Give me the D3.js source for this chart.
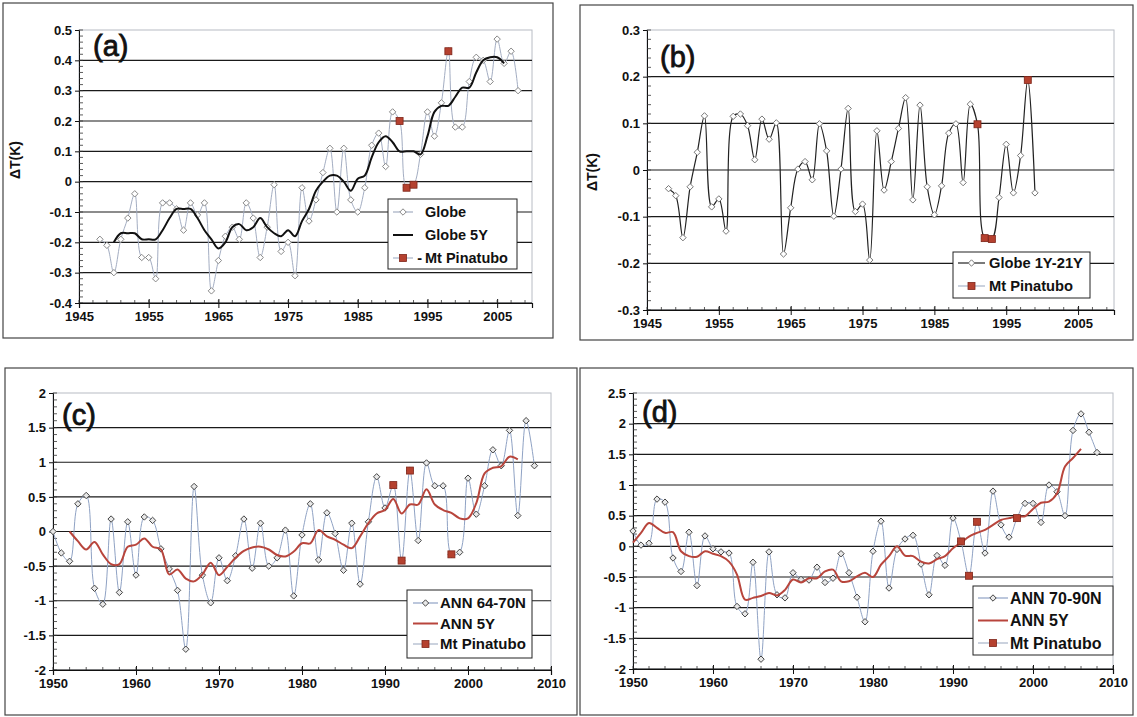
<!DOCTYPE html>
<html><head><meta charset="utf-8">
<script src="https://cdn.jsdelivr.net/npm/d3@7"></script>
<style>
body{margin:0;background:#fff;}
svg{display:block;font-family:"Liberation Sans",Arial,sans-serif;}
</style></head>
<body><svg id="c" width="1137" height="717"></svg>
<script>
// ---------------- DATA ----------------
const yearsA = d3.range(1948, 2009);
const globeA = [-0.19,-0.21,-0.30,-0.19,-0.12,-0.04,-0.25,-0.25,-0.32,-0.07,-0.07,-0.09,-0.16,-0.07,-0.11,-0.07,-0.36,-0.26,-0.18,-0.15,-0.19,-0.07,-0.12,-0.25,-0.15,-0.01,-0.23,-0.20,-0.31,-0.02,-0.13,-0.06,0.03,0.11,-0.10,0.11,-0.06,-0.10,-0.02,0.12,0.16,0.05,0.23,0.20,-0.02,-0.01,0.09,0.23,0.15,0.26,0.43,0.18,0.18,0.33,0.41,0.40,0.33,0.47,0.39,0.43,0.30];
const years5A = d3.range(1950, 2007);
const globe5A = [-0.20,-0.17,-0.17,-0.17,-0.19,-0.19,-0.19,-0.16,-0.12,-0.09,-0.09,-0.09,-0.12,-0.16,-0.19,-0.22,-0.20,-0.15,-0.14,-0.16,-0.15,-0.12,-0.15,-0.17,-0.18,-0.16,-0.18,-0.13,-0.09,-0.03,0.00,0.02,0.02,0.00,-0.03,0.01,0.02,0.08,0.13,0.15,0.13,0.10,0.10,0.10,0.09,0.15,0.23,0.25,0.25,0.28,0.31,0.31,0.36,0.40,0.41,0.41,0.39];
const pinYears = [1991, 1992, 1993, 1998];
const pinA = [0.20, -0.02, -0.01, 0.43];

const yearsB = d3.range(1948, 2000);
const globeB = [-0.04,-0.055,-0.145,-0.036,0.038,0.116,-0.079,-0.062,-0.131,0.115,0.12,0.095,0.022,0.109,0.066,0.101,-0.18,-0.081,0.002,0.018,-0.021,0.099,0.041,-0.099,0.002,0.132,-0.089,-0.073,-0.193,0.084,-0.043,0.018,0.089,0.155,-0.064,0.139,-0.036,-0.096,-0.034,0.079,0.099,-0.027,0.141,0.098,-0.146,-0.148,-0.059,0.055,-0.049,0.031,0.193,-0.049];
const pinB = [0.098, -0.146, -0.148, 0.193];

const yearsC = d3.range(1950, 2009);
const annC = [0.0,-0.31,-0.43,0.40,0.52,-0.82,-1.05,0.18,-0.88,0.14,-0.63,0.21,0.16,-0.25,-0.54,-0.85,-1.70,0.65,-0.63,-1.03,-0.38,-0.71,-0.35,0.18,-0.53,0.12,-0.50,-0.38,0.02,-0.93,-0.05,0.40,-0.41,0.27,-0.03,-0.56,0.12,-0.76,0.14,0.79,0.34,0.67,-0.42,0.88,-0.13,0.99,0.66,0.66,-0.33,-0.30,0.77,0.25,0.66,1.18,0.95,1.46,0.23,1.60,0.95];
const years5C = d3.range(1952, 2007);
const ann5C = [0.0,-0.14,-0.26,-0.15,-0.33,-0.47,-0.47,-0.22,-0.19,-0.10,-0.22,-0.26,-0.62,-0.55,-0.68,-0.72,-0.62,-0.45,-0.63,-0.51,-0.38,-0.28,-0.23,-0.22,-0.26,-0.34,-0.36,-0.29,-0.17,-0.17,0.02,-0.07,-0.12,-0.19,-0.24,-0.07,0.12,0.26,0.31,0.47,0.26,0.39,0.39,0.61,0.39,0.31,0.27,0.19,0.19,0.41,0.84,0.92,0.94,1.08,1.04];
const pinC = [0.67, -0.42, 0.88, -0.33];

const yearsD = d3.range(1950, 2009);
const annD = [0.25,0.02,0.05,0.77,0.72,-0.19,-0.41,0.23,-0.64,0.17,-0.04,-0.09,-0.11,-0.98,-1.10,-0.26,-1.84,-0.09,-0.79,-0.84,-0.43,-0.54,-0.55,-0.34,-0.59,-0.52,-0.12,-0.43,-0.83,-1.23,-0.08,0.41,-0.68,-0.05,0.12,0.18,-0.29,-0.79,-0.15,-0.31,0.46,0.08,-0.48,0.40,-0.11,0.90,0.35,0.15,0.46,0.70,0.70,0.39,1.00,0.89,0.50,1.89,2.16,1.86,1.53];
const years5D = d3.range(1950, 2007);
const ann5D = [0.06,0.22,0.38,0.30,0.22,0.23,-0.08,-0.16,-0.17,-0.08,-0.12,-0.16,-0.25,-0.46,-0.87,-0.84,-0.81,-0.76,-0.80,-0.71,-0.54,-0.59,-0.52,-0.52,-0.41,-0.38,-0.57,-0.57,-0.49,-0.43,-0.50,-0.30,-0.16,0.00,-0.15,-0.16,-0.25,-0.28,-0.21,-0.16,-0.03,0.06,0.16,0.22,0.27,0.35,0.43,0.46,0.49,0.49,0.61,0.71,0.73,0.86,1.30,1.44,1.59];
const pinD = [0.08, -0.48, 0.40, 0.46];

const xTicksAB = [1945, 1955, 1965, 1975, 1985, 1995, 2005];
const xTicksCD = [1950, 1960, 1970, 1980, 1990, 2000, 2010];
const yTicksA = [0.5,0.4,0.3,0.2,0.1,0,-0.1,-0.2,-0.3,-0.4];
const yTicksB = [0.3,0.2,0.1,0,-0.1,-0.2,-0.3];
const yTicksC = [2,1.5,1,0.5,0,-0.5,-1,-1.5,-2];
const yTicksD = [2.5,2,1.5,1,0.5,0,-0.5,-1,-1.5,-2];

// ---------------- DRAW ----------------
const svg = d3.select("#c");
const RED = "#b5412f", RED_D = "#7e2519";
const diamond = "M0,-3.2L3.2,0L0,3.2L-3.2,0Z";

function panel(o){
  const g = svg.append("g");
  g.append("rect").attr("x",o.frame[0]).attr("y",o.frame[1]).attr("width",o.frame[2]-o.frame[0]).attr("height",o.frame[3]-o.frame[1])
    .attr("fill","none").attr("stroke","#444").attr("stroke-width",1.2);
  const x = d3.scaleLinear().domain(o.xd).range(o.xr);
  const y = d3.scaleLinear().domain(o.yd).range(o.yr);
  g.append("rect").attr("x",o.xr[0]).attr("y",o.yr[1]).attr("width",o.xr[1]-o.xr[0]).attr("height",o.yr[0]-o.yr[1])
    .attr("fill","none").attr("stroke","#b8bcc4").attr("stroke-width",1);
  g.selectAll(null).data(o.yt.filter(v=>v!==o.yd[1])).join("line")
    .attr("x1",o.xr[0]).attr("x2",o.xr[1]).attr("y1",d=>y(d)).attr("y2",d=>y(d))
    .attr("stroke","#1a1a1a").attr("stroke-width",1.2);
  const ya = d3.axisLeft(y).tickValues(o.yt).tickSize(4).tickFormat(d=>String(d));
  const yag = g.append("g").attr("transform",`translate(${o.xr[0]},0)`).call(ya);
  yag.select(".domain").attr("stroke","#111");
  yag.selectAll(".tick line").attr("stroke","#111");
  yag.selectAll("text").attr("font-size",13).attr("font-weight","bold").attr("fill","#111").attr("x",-7);
  const ym = d3.range(o.yd[0], o.yd[1]+1e-9, o.ym);
  g.selectAll(null).data(ym).join("line").attr("x1",o.xr[0]).attr("x2",o.xr[0]+4)
    .attr("y1",d=>y(d)).attr("y2",d=>y(d)).attr("stroke","#333").attr("stroke-width",0.8);
  const xa = d3.axisBottom(x).tickValues(o.xt).tickSize(5).tickPadding(4).tickFormat(d3.format("d"));
  const xag = g.append("g").attr("transform",`translate(0,${o.yr[0]})`).call(xa);
  xag.select(".domain").attr("stroke","#111").attr("stroke-width",1.2);
  xag.selectAll(".tick line").attr("stroke","#111").attr("y1",-4);
  xag.selectAll("text").attr("font-size",13).attr("font-weight","bold").attr("fill","#111");
  const xm = d3.range(o.xd[0], o.xd[1]+1e-9, 2);
  g.selectAll(null).data(xm).join("line").attr("x1",d=>x(d)).attr("x2",d=>x(d))
    .attr("y1",o.yr[0]-3).attr("y2",o.yr[0]).attr("stroke","#333").attr("stroke-width",0.8);

  const curve = d3.curveCatmullRom.alpha(0.5);
  const line = d3.line().x(d=>x(d[0])).y(d=>y(d[1])).curve(curve);
  const ann = o.years.map((yr,i)=>[yr,o.vals[i]]);
  g.append("path").attr("d",line(ann)).attr("fill","none").attr("stroke",o.annColor).attr("stroke-width",o.annWidth);
  g.selectAll(null).data(ann).join("path").attr("d",diamond)
    .attr("transform",d=>`translate(${x(d[0])},${y(d[1])})`)
    .attr("fill",o.mFill).attr("stroke",o.mStroke).attr("stroke-width",1);
  if(o.years5){
    const s5 = o.years5.map((yr,i)=>[yr,o.vals5[i]]);
    g.append("path").attr("d",line(s5)).attr("fill","none").attr("stroke",o.c5).attr("stroke-width",2);
  }
  const pin = pinYears.map((yr,i)=>[yr,o.pin[i]]);
  g.selectAll(null).data(pin).join("rect")
    .attr("x",d=>x(d[0])-3.5).attr("y",d=>y(d[1])-3.5).attr("width",7).attr("height",7)
    .attr("fill",RED).attr("stroke",RED_D).attr("stroke-width",0.8);
  g.append("text").attr("x",o.lab[0]).attr("y",o.lab[1]).attr("font-size",29)
    .attr("fill","#111").attr("stroke","#111").attr("stroke-width",0.8).text(o.label);
  if(o.ylab){
    g.append("text").attr("transform",`translate(${o.ylab[0]},${o.ylab[1]}) rotate(-90)`).attr("text-anchor","middle")
      .attr("font-size",14).attr("font-weight","bold").attr("fill","#111").text("ΔT(K)");
  }
  const L = o.leg;
  g.append("rect").attr("x",L.x).attr("y",L.y).attr("width",L.w).attr("height",L.h).attr("fill","#fff").attr("stroke","#222").attr("stroke-width",1);
  L.items.forEach((it,i)=>{
    const cy = L.y + L.pad + i*L.dy;
    const x0 = L.x+L.l0, x1 = L.x+L.l1;
    if(it.t==="ann"){
      g.append("line").attr("x1",x0).attr("x2",x1).attr("y1",cy).attr("y2",cy).attr("stroke",o.annColor).attr("stroke-width",1.2);
      g.append("path").attr("d",diamond).attr("transform",`translate(${(x0+x1)/2},${cy})`).attr("fill",o.mFill).attr("stroke",o.mStroke);
    } else if(it.t==="5y"){
      g.append("line").attr("x1",x0).attr("x2",x1).attr("y1",cy).attr("y2",cy).attr("stroke",o.c5).attr("stroke-width",2);
    } else {
      g.append("line").attr("x1",x0).attr("x2",x1).attr("y1",cy).attr("y2",cy).attr("stroke","#a8b4c8").attr("stroke-width",1.2);
      g.append("rect").attr("x",(x0+x1)/2-3.5).attr("y",cy-3.5).attr("width",7).attr("height",7).attr("fill",RED).attr("stroke",RED_D).attr("stroke-width",0.8);
    }
    if(it.pre){
      g.append("text").attr("x",L.x+L.tx-3).attr("y",cy).attr("dy","0.36em").attr("text-anchor","end")
        .attr("font-size",L.fs).attr("font-weight","bold").attr("fill","#111").text(it.pre);
    }
    g.append("text").attr("x",L.x+L.tx).attr("y",cy).attr("dy","0.36em").attr("font-size",L.fs).attr("font-weight","bold").attr("fill","#111").text(it.s);
  });
}

panel({frame:[3,3,553,338], xd:[1945,2010], xr:[79,532], yd:[-0.4,0.5], yr:[303,30], yt:yTicksA, ym:0.02, xt:xTicksAB,
  years:yearsA, vals:globeA, years5:years5A, vals5:globe5A, c5:"#111", pin:pinA,
  annColor:"#a3adc2", annWidth:1, mFill:"#fff", mStroke:"#888",
  label:"(a)", lab:[93,56], ylab:[20,160],
  leg:{x:388,y:199,w:129,h:70,pad:13,dy:23,l0:5,l1:25,tx:37,fs:14.5,items:[{t:"ann",s:"Globe"},{t:"5y",s:"Globe 5Y"},{t:"pin",s:"Mt Pinatubo",pre:"-"}]}});

panel({frame:[580,5,1133,340], xd:[1945,2010], xr:[647,1114], yd:[-0.3,0.3], yr:[310,30], yt:yTicksB, ym:0.02, xt:xTicksAB,
  years:yearsB, vals:globeB, pin:pinB,
  annColor:"#222", annWidth:1.2, mFill:"#fff", mStroke:"#777",
  label:"(b)", lab:[660,67], ylab:[597,172],
  leg:{x:953,y:252,w:137,h:46,pad:11,dy:23,l0:5,l1:32,tx:36,fs:14.7,items:[{t:"ann",s:"Globe 1Y-21Y"},{t:"pin",s:"Mt Pinatubo"}]}});

panel({frame:[5,368,577,715], xd:[1950,2010], xr:[53,551], yd:[-2,2], yr:[670,393], yt:yTicksC, ym:0.1, xt:xTicksCD,
  years:yearsC, vals:annC, years5:years5C, vals5:ann5C, c5:"#b8453c", pin:pinC,
  annColor:"#8fa2c4", annWidth:1, mFill:"#e8e8e8", mStroke:"#444",
  label:"(c)", lab:[62,425],
  leg:{x:407,y:590,w:125,h:68,pad:13,dy:20.5,l0:6,l1:31,tx:33,fs:15,items:[{t:"ann",s:"ANN 64-70N"},{t:"5y",s:"ANN 5Y"},{t:"pin",s:"Mt Pinatubo"}]}});

panel({frame:[580,368,1133,715], xd:[1950,2010], xr:[633,1113], yd:[-2,2.5], yr:[669,393], yt:yTicksD, ym:0.1, xt:xTicksCD,
  years:yearsD, vals:annD, years5:years5D, vals5:ann5D, c5:"#b8453c", pin:pinD,
  annColor:"#8fa2c4", annWidth:1, mFill:"#e8e8e8", mStroke:"#444",
  label:"(d)", lab:[642,422],
  leg:{x:973,y:586,w:140,h:69,pad:12,dy:22.5,l0:5,l1:35,tx:37,fs:16,items:[{t:"ann",s:"ANN 70-90N"},{t:"5y",s:"ANN 5Y"},{t:"pin",s:"Mt Pinatubo"}]}});
</script></body></html>
